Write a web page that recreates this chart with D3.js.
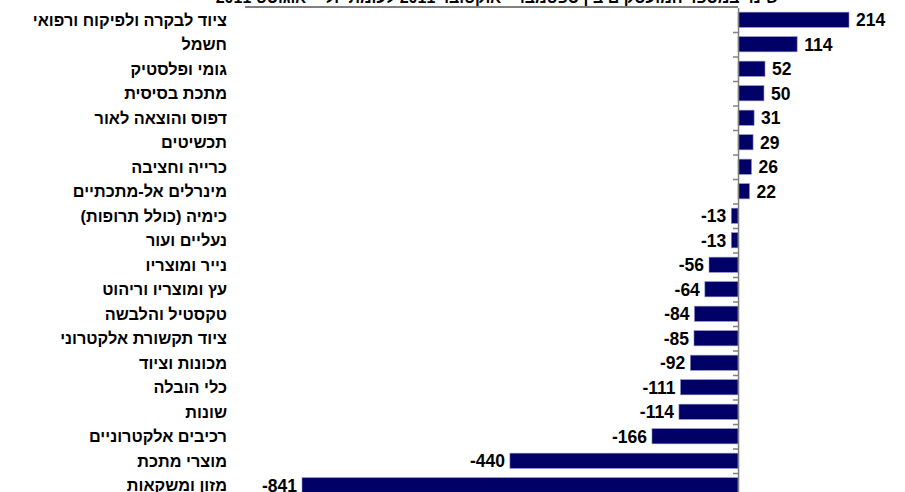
<!DOCTYPE html>
<html>
<head>
<meta charset="utf-8">
<script src="https://cdn.jsdelivr.net/npm/d3@7"></script>
<style>
  body { margin: 0; background: #fff; }
  svg { display: block; font-family: "Liberation Sans", Arial, sans-serif; }
</style>
</head>
<body>
<svg id="chart" width="905" height="492"></svg>
<script>
const categories = [
  "ציוד לבקרה ולפיקוח ורפואי", "חשמל", "גומי ופלסטיק", "מתכת בסיסית",
  "דפוס והוצאה לאור", "תכשיטים", "כרייה וחציבה", "מינרלים אל-מתכתיים",
  "כימיה (כולל תרופות)", "נעליים ועור", "נייר ומוצריו", "עץ ומוצריו וריהוט",
  "טקסטיל והלבשה", "ציוד תקשורת אלקטרוני", "מכונות וציוד", "כלי הובלה",
  "שונות", "רכיבים אלקטרוניים", "מוצרי מתכת", "מזון ומשקאות"
];
const values = [214, 114, 52, 50, 31, 29, 26, 22, -13, -13, -56, -64, -84, -85, -92, -111, -114, -166, -440, -841];
const title = "שינוי במספר המועסקים בין ספטמבר - אוקטובר 2011 לעומת יולי - אוגוסט 2011";

const svg = d3.select("#chart");
const plotTop = 7.5, step = 24.5;
const n = categories.length;

const x = d3.scaleLinear().domain([-841, 214]).range([302, 849]);
const y = d3.scaleBand().domain(d3.range(n)).range([plotTop, plotTop + n * step]).paddingInner(0.38).paddingOuter(0.19);
const yEdge = d3.scaleLinear().domain([0, n]).range([plotTop, plotTop + n * step]);

// title, cut off at the top as in the original
svg.append("text")
  .attr("x", 497).attr("y", 3)
  .attr("text-anchor", "middle")
  .attr("direction", "rtl")
  .style("font-size", "16px").style("font-weight", "bold")
  .text(title);
svg.append("line")
  .attr("x1", 245).attr("x2", x(0)).attr("y1", 7).attr("y2", 7)
  .attr("stroke", "#000").attr("stroke-width", 1);

// bars
svg.selectAll("rect.bar")
  .data(values)
  .enter().append("rect")
  .attr("class", "bar")
  .attr("x", d => x(Math.min(0, d)))
  .attr("y", (_, i) => y(i))
  .attr("width", d => Math.abs(x(d) - x(0)))
  .attr("height", y.bandwidth())
  .attr("fill", "#000066")
  .attr("stroke", "#8c8cc8")
  .attr("stroke-width", 0.6);

// axis at zero, ticks between categories
const axis = svg.append("g")
  .attr("transform", `translate(${x(0)},0)`)
  .call(d3.axisLeft(yEdge).tickValues(d3.range(1, n)).tickSize(5).tickSizeOuter(0).tickFormat(""));
axis.selectAll("path, line").attr("stroke", "#808080").attr("stroke-width", 1.5);

// value labels
svg.selectAll("text.val")
  .data(values)
  .enter().append("text")
  .attr("class", "val")
  .attr("x", d => d >= 0 ? x(d) + 7 : x(d) - 5)
  .attr("y", (_, i) => y(i) + y.bandwidth() / 2)
  .attr("dy", "0.36em")
  .attr("text-anchor", d => d >= 0 ? "start" : "end")
  .style("font-size", "17.5px").style("font-weight", "bold")
  .text(d => d);

// category labels
svg.selectAll("text.cat")
  .data(categories)
  .enter().append("text")
  .attr("class", "cat")
  .attr("x", 227)
  .attr("y", (_, i) => y(i) + y.bandwidth() / 2)
  .attr("dy", "0.36em")
  .attr("text-anchor", "start")
  .attr("direction", "rtl")
  .style("font-size", "16.3px").style("font-weight", "bold")
  .text(d => d);
</script>
</body>
</html>
